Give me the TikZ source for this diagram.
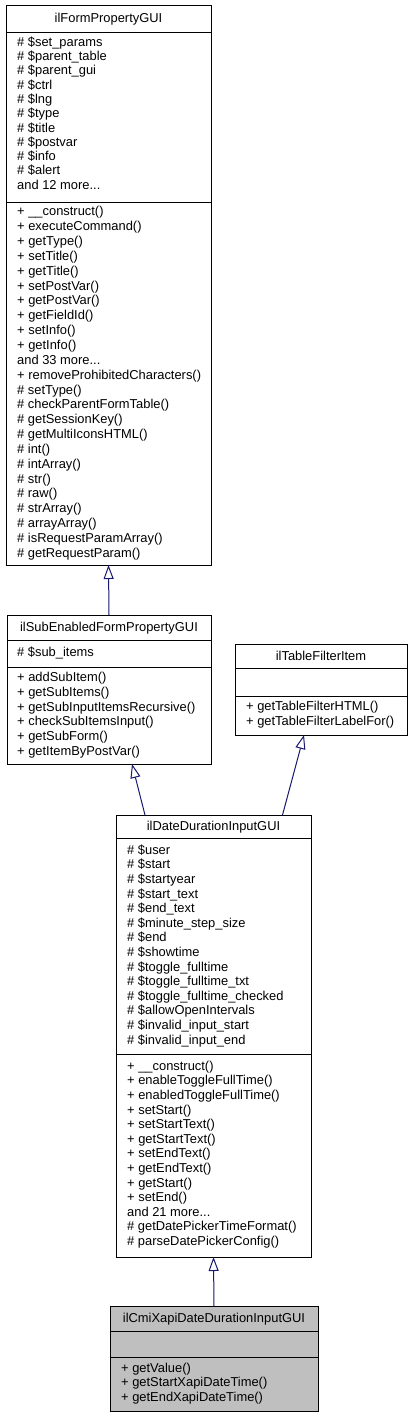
\documentclass[tikz,border=0pt]{standalone}
\usepackage{fontspec}
\setmainfont{Liberation Sans}
\usetikzlibrary{arrows.meta,calc}
\definecolor{edgeblue}{HTML}{191970}
\definecolor{boxgray}{HTML}{BFBFBF}
\newcommand\mytdots{...}
\tikzset{
  umlbox/.style={draw=black, line width=1pt, anchor=north west, inner sep=0pt, outer sep=0pt},
  sepline/.style={draw=black, line width=1pt},
  txt/.style={anchor=base west, inner sep=0pt, font=\fontsize{12.9}{14}\selectfont},
  ttl/.style={anchor=base, inner sep=0pt, font=\fontsize{12.9}{14}\selectfont},
  inherit/.style={draw=edgeblue, line width=1pt, -{Triangle[open, length=14pt, width=10pt, fill=white]}}
}
\begin{document}
\begin{tikzpicture}[x=1pt,y=-1pt]
\useasboundingbox (0,0) rectangle (411,1417);
\fill[white] (0,0) rectangle (411,1417);

% ---------- ilFormPropertyGUI ----------
\node[umlbox, minimum width=205pt, minimum height=560pt] (b1) at (6,5) {};
\draw[sepline] ($(b1.north west)+(0,27)$) -- ($(b1.north east)+(0,27)$);
\draw[sepline] ($(b1.north west)+(0,197)$) -- ($(b1.north east)+(0,197)$);
\node[ttl] (b1t) at (108.5,22) {ilFormPropertyGUI};
\foreach \t [count=\i from 0] in {\# \$set\_params,\# \$parent\_table,\# \$parent\_gui,\# \$ctrl,\# \$lng,\# \$type,\# \$title,\# \$postvar,\# \$info,\# \$alert,{and 12 more\mytdots}}
  \node[txt] (b1a\i) at (17,46.2+\i*14.3) {\t};
\foreach \t [count=\i from 0] in {+ \_\_construct(),+ executeCommand(),+ getType(),+ setTitle(),+ getTitle(),+ setPostVar(),+ getPostVar(),+ getFieldId(),+ setInfo(),+ getInfo(),{and 33 more\mytdots},+ removeProhibitedCharacters(),\# setType(),\# checkParentFormTable(),\# getSessionKey(),\# getMultiIconsHTML(),\# int(),\# intArray(),\# str(),\# raw(),\# strArray(),\# arrayArray(),\# isRequestParamArray(),\# getRequestParam()}
  \node[txt] (b1m\i) at (17,215.8+\i*14.85) {\t};

% ---------- ilSubEnabledFormPropertyGUI ----------
\node[umlbox, minimum width=204pt, minimum height=149pt] (b2) at (7,615) {};
\draw[sepline] ($(b2.north west)+(0,25)$) -- ($(b2.north east)+(0,25)$);
\draw[sepline] ($(b2.north west)+(0,52)$) -- ($(b2.north east)+(0,52)$);
\node[ttl] (b2t) at (109,631) {ilSubEnabledFormPropertyGUI};
\node[txt] (b2a0) at (17,656.2) {\# \$sub\_items};
\foreach \t [count=\i from 0] in {+ addSubItem(),+ getSubItems(),+ getSubInputItemsRecursive(),+ checkSubItemsInput(),+ getSubForm(),+ getItemByPostVar()}
  \node[txt] (b2m\i) at (17,681.8+\i*14.7) {\t};

% ---------- ilTableFilterItem ----------
\node[umlbox, minimum width=172pt, minimum height=91pt] (b3) at (235,644) {};
\draw[sepline] ($(b3.north west)+(0,24.5)$) -- ($(b3.north east)+(0,24.5)$);
\draw[sepline] ($(b3.north west)+(0,52)$) -- ($(b3.north east)+(0,52)$);
\node[ttl] (b3t) at (321,660) {ilTableFilterItem};
\foreach \t [count=\i from 0] in {+ getTableFilterHTML(),+ getTableFilterLabelFor()}
  \node[txt] (b3m\i) at (246,710.2+\i*15.3) {\t};

% ---------- ilDateDurationInputGUI ----------
\node[umlbox, minimum width=195pt, minimum height=442pt] (b4) at (116,815) {};
\draw[sepline] ($(b4.north west)+(0,23)$) -- ($(b4.north east)+(0,23)$);
\draw[sepline] ($(b4.north west)+(0,239.5)$) -- ($(b4.north east)+(0,239.5)$);
\node[ttl] (b4t) at (213.5,830) {ilDateDurationInputGUI};
\foreach \t [count=\i from 0] in {\# \$user,\# \$start,\# \$startyear,\# \$start\_text,\# \$end\_text,\# \$minute\_step\_size,\# \$end,\# \$showtime,\# \$toggle\_fulltime,\# \$toggle\_fulltime\_txt,\# \$toggle\_fulltime\_checked,\# \$allowOpenIntervals,\# \$invalid\_input\_start,\# \$invalid\_input\_end}
  \node[txt] (b4a\i) at (127,854.2+\i*14.6) {\t};
\foreach \t [count=\i from 0] in {+ \_\_construct(),+ enableToggleFullTime(),+ enabledToggleFullTime(),+ setStart(),+ setStartText(),+ getStartText(),+ setEndText(),+ getEndText(),+ getStart(),+ setEnd(),{and 21 more\mytdots},\# getDatePickerTimeFormat(),\# parseDatePickerConfig()}
  \node[txt] (b4m\i) at (127,1070.2+\i*14.6) {\t};

% ---------- ilCmiXapiDateDurationInputGUI ----------
\node[umlbox, fill=boxgray, minimum width=208pt, minimum height=105pt] (b5) at (110,1306) {};
\draw[sepline] ($(b5.north west)+(0,25)$) -- ($(b5.north east)+(0,25)$);
\draw[sepline] ($(b5.north west)+(0,51)$) -- ($(b5.north east)+(0,51)$);
\node[ttl] (b5t) at (214,1322) {ilCmiXapiDateDurationInputGUI};
\foreach \t [count=\i from 0] in {+ getValue(),+ getStartXapiDateTime(),+ getEndXapiDateTime()}
  \node[txt] (b5m\i) at (121,1372.5+\i*14.35) {\t};

% ---------- inheritance edges ----------
\draw[inherit] (b2.north) -- (b1.south);
\draw[inherit] ($(b4.north west)+(29,0)$) -- ($(b2.south west)+(125,0)$);
\draw[inherit] ($(b4.north west)+(166.5,0)$) -- ($(b3.south west)+(69,0)$);
\draw[inherit] (b5.north) -- (b4.south);
\end{tikzpicture}
\end{document}
